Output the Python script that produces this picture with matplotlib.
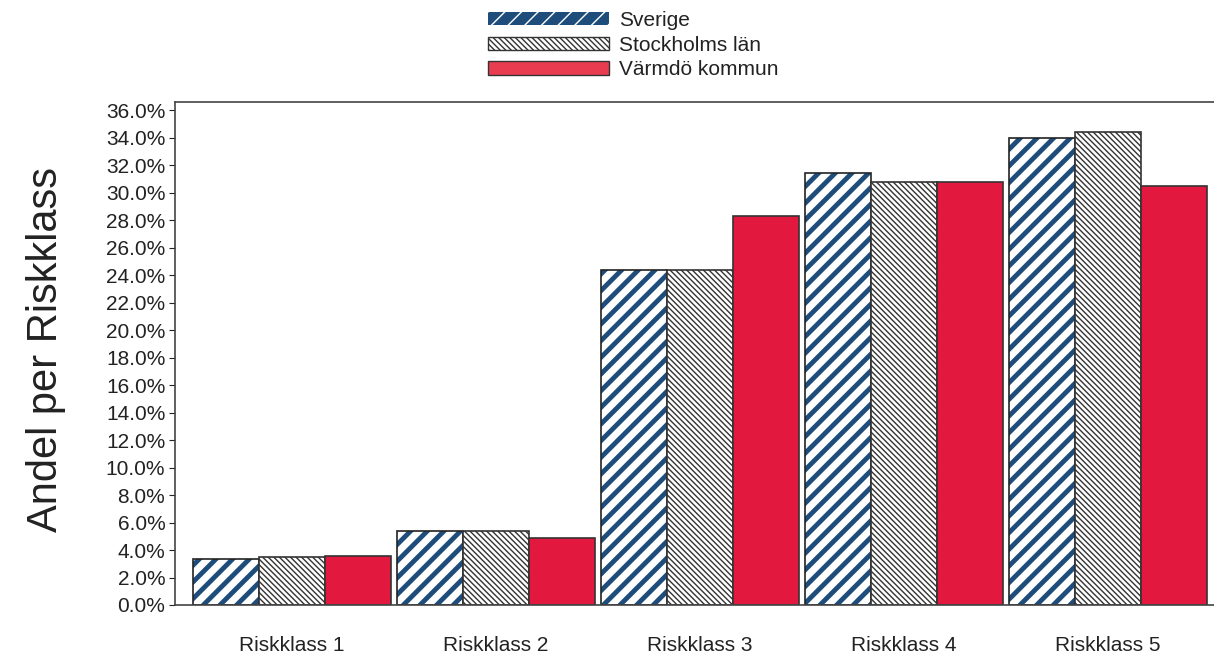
import matplotlib
matplotlib.use("Agg")
import matplotlib.pyplot as plt
import matplotlib.patches as mpatches
import numpy as np
from matplotlib.ticker import FuncFormatter, MultipleLocator

# data (share per risk class)
categories = ['Riskklass 1', 'Riskklass 2', 'Riskklass 3', 'Riskklass 4', 'Riskklass 5']
series = ['Sverige', 'Stockholms län', 'Värmdö kommun']
sverige = [3.35, 5.4, 24.4, 31.4, 34.0]
stockholm = [3.5, 5.4, 24.4, 30.8, 34.4]
varmdo = [3.6, 4.9, 28.3, 30.8, 30.5]

blue = '#1e4d7c'
red = '#e3183e'

plt.rcParams['font.family'] = ['Liberation Sans', 'DejaVu Sans']

fig = plt.figure(figsize=(12.14, 6.55), dpi=100)
ax = fig.add_axes([175/1214, 1 - 605/655, 1 - 175/1214, (605 - 102)/655])

x = np.arange(len(categories))
w = 0.3235

# Sverige: blue with wide white stripes
plt.rcParams['hatch.linewidth'] = 5.0
b1 = ax.bar(x - w, sverige, w, color=blue, edgecolor='white', hatch='//', linewidth=0)
ax.bar(x - w, sverige, w, fill=False, edgecolor='#222222', linewidth=1.2)
plt.rcParams['hatch.linewidth'] = 3.5
h1 = mpatches.Patch(facecolor=blue, edgecolor='white', hatch='//', linewidth=0)

# Stockholms län: thin dense black stripes on white
plt.rcParams['hatch.linewidth'] = 1.0
b2 = ax.bar(x, stockholm, w, color='white', edgecolor='#333333', hatch='\\' * 6, linewidth=1.2)
h2 = mpatches.Patch(facecolor='white', edgecolor='#333333', hatch='\\' * 6, linewidth=1.0)

# Värmdö kommun: solid red
b3 = ax.bar(x + w, varmdo, w, color=red, edgecolor='#333333', linewidth=1.2)
h3 = mpatches.Patch(facecolor='#ea3c50', edgecolor='#333333', linewidth=1.0)

ax.set_xlim(-0.574, -0.574 + 1039/204)
ax.set_ylim(0, 36.6)
ax.yaxis.set_major_locator(MultipleLocator(2))
ax.yaxis.set_major_formatter(FuncFormatter(lambda v, p: f'{v:.1f}%'))
ax.set_xticks(x)
ax.set_xticklabels(categories)
ax.tick_params(axis='x', length=0, labelsize=15, pad=22, colors='#222222')
ax.tick_params(axis='y', direction='out', length=4, labelsize=15, pad=3, colors='#222222')
ax.spines['right'].set_visible(False)
for s in ['left', 'top', 'bottom']:
    ax.spines[s].set_color('#444444')
    ax.spines[s].set_linewidth(1.2)

fig.text(46/1214, 1 - 350/655, 'Andel per Riskklass', rotation=90, fontsize=30,
         ha='center', va='center', color='#222222')

leg = fig.legend([h1, h2, h3], series, loc='upper left',
                 bbox_to_anchor=(488/1214, 1 - 11/655), frameon=False, fontsize=15,
                 handlelength=5.8, handleheight=0.6, labelspacing=0.27,
                 handletextpad=0.5, borderpad=0, borderaxespad=0)
for t in leg.get_texts():
    t.set_color('#222222')

fig.savefig('out.png', dpi=100, facecolor='white')
